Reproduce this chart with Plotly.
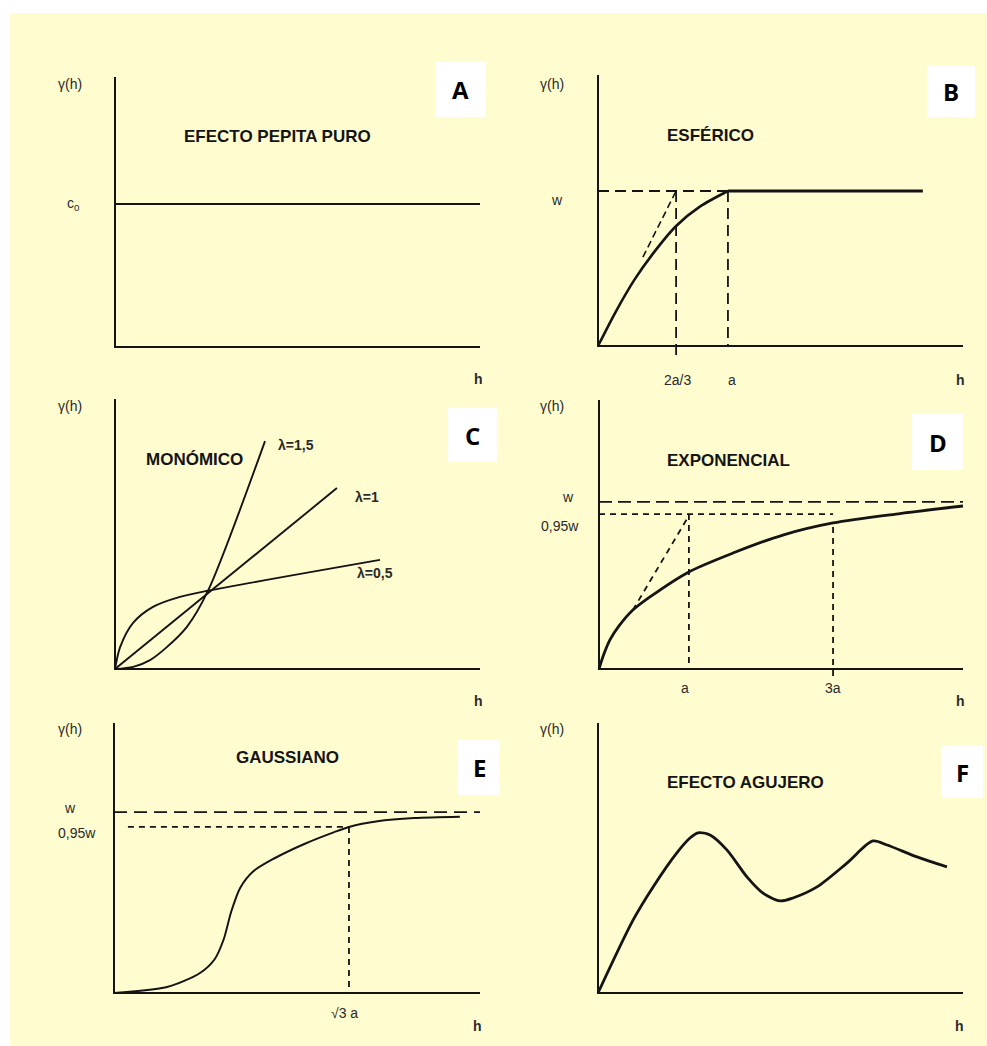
import plotly.graph_objects as go

W, H = 987, 1046
BG = "#FFFCCF"
INK = "#141414"

# ---------------- DATA (axis units: each drawn axis is 10 units long) ----------------
# A: pure nugget effect
a_h = [0, 10]
a_gamma = [5.30, 5.30]

# B: spherical
b_curve_h = [0, 0.5, 1.0, 1.5, 2.14, 2.8, 3.56]
b_curve_g = [0, 1.30, 2.45, 3.40, 4.43, 5.15, 5.72]
b_plateau_h = [3.56, 8.90]
b_plateau_g = [5.72, 5.72]
b_sill = 5.72
b_range_a = 3.56
b_two_thirds = 2.14
b_tangent_h = [1.23, 2.14]
b_tangent_g = [3.28, 5.72]

# C: monomial (power) models
c_l15_h = [0, 0.5, 0.96, 1.42, 1.97, 2.55, 4.11]
c_l15_g = [0, 0.08, 0.33, 0.81, 1.56, 2.90, 8.44]
c_l1_h = [0, 6.08]
c_l1_g = [0, 6.70]
c_l05_h = [0, 0.14, 0.49, 1.04, 1.78, 2.55, 7.26]
c_l05_g = [0, 0.81, 1.70, 2.30, 2.67, 2.90, 4.04]

# D: exponential
d_curve_h = [0, 0.12, 0.30, 0.55, 0.93, 1.40, 2.47, 3.68, 5.05, 6.43, 8.27, 10.0]
d_curve_g = [0, 0.50, 1.08, 1.60, 2.19, 2.68, 3.61, 4.31, 4.98, 5.43, 5.78, 6.06]
d_sill = 6.21
d_sill95 = 5.76
d_a = 2.47
d_3a = 6.43
d_3a_top = 5.28
d_tangent_h = [0.93, 2.47]
d_tangent_g = [2.19, 5.70]

# E: gaussian
e_curve_h = [0, 1.45, 2.35, 2.75, 3.0, 3.2, 3.45, 3.8, 4.4, 5.2, 6.0, 6.42, 7.2, 8.2, 9.45]
e_curve_g = [0, 0.22, 0.74, 1.25, 2.0, 3.0, 3.9, 4.5, 5.0, 5.52, 5.95, 6.15, 6.36, 6.48, 6.53]
e_sill = 6.70
e_sill95 = 6.15
e_sqrt3a = 6.42
e_sill95_start = 0.38

# F: hole effect
f_curve_h = [0, 0.96, 1.51, 2.16, 2.52, 2.74, 3.07, 3.53, 4.08, 4.52, 4.99, 5.34, 6.00, 6.82, 7.53, 7.92, 8.74, 9.56]
f_curve_g = [0, 2.70, 3.93, 5.19, 5.74, 5.93, 5.85, 5.30, 4.30, 3.70, 3.41, 3.52, 3.93, 4.81, 5.63, 5.48, 5.04, 4.67]

titles = ["EFECTO PEPITA PURO", "ESFÉRICO", "MONÓMICO", "EXPONENCIAL", "GAUSSIANO", "EFECTO AGUJERO"]
letters = ["A", "B", "C", "D", "E", "F"]

# ---------------- LAYOUT GEOMETRY (pixels) ----------------
regions = [(20, 40, 495, 398), (500, 40, 987, 398),
           (20, 398, 495, 716), (500, 398, 987, 716),
           (20, 716, 495, 1042), (500, 716, 987, 1042)]
# origin x, origin y, x-axis end, y-axis top
calib = [(115, 347, 480, 77), (598, 346, 963, 75),
         (115, 669, 480, 399), (599, 669, 963, 400),
         (114, 993, 480, 723), (598, 993, 963, 723)]
title_pos = [(277, 137), (710, 136), (194, 459), (728, 460), (287, 757), (745, 782)]
letter_box = [(435, 62, 486, 117), (927, 66, 975, 117), (448, 408, 497, 462),
              (912, 414, 963, 470), (458, 740, 500, 795), (941, 746, 983, 798)]
gamma_pos = [(70, 84), (552, 84), (70, 406), (552, 406), (70, 729), (552, 729)]
h_pos = [(478, 379), (960, 380), (478, 701), (960, 701), (477, 1026), (959, 1026)]

fig = go.Figure()
layout = dict(width=W, height=H, margin=dict(l=0, r=0, t=0, b=0),
              paper_bgcolor="white", plot_bgcolor="rgba(0,0,0,0)",
              showlegend=False, font=dict(family="Liberation Sans, Arial", color=INK))

def px(x):
    return x / W

def py(y):
    return 1 - y / H

for i in range(6):
    px0, py0, px1, py1 = regions[i]
    ox, oy, ex, ty = calib[i]
    sx = (ex - ox) / 10.0
    sy = (oy - ty) / 10.0
    sfx = "" if i == 0 else str(i + 1)
    layout["xaxis" + sfx] = dict(domain=[px(px0), px(px1)],
                                 range=[(px0 - ox) / sx, (px1 - ox) / sx],
                                 visible=False, fixedrange=True,
                                 anchor="y" + sfx)
    layout["yaxis" + sfx] = dict(domain=[py(py1), py(py0)],
                                 range=[(oy - py1) / sy, (oy - py0) / sy],
                                 visible=False, fixedrange=True,
                                 anchor="x" + sfx)

def axref(i):
    s = "" if i == 0 else str(i + 1)
    return "x" + s, "y" + s

def add_line(i, xs, ys, width=2.4, dash="solid", shape="linear"):
    xr, yr = axref(i)
    fig.add_trace(go.Scatter(x=xs, y=ys, mode="lines", xaxis=xr, yaxis=yr,
                             line=dict(color=INK, width=width, dash=dash, shape=shape,
                                       smoothing=0.8), hoverinfo="skip"))

LONG = "11px,6px"
SHORT = "6px,5px"

# axes (L shapes)
for i in range(6):
    add_line(i, [0, 0, 10], [10, 0, 0], width=2.0)

# A
add_line(0, a_h, a_gamma, width=2.0)

# B
add_line(1, [0, b_range_a], [b_sill, b_sill], width=1.8, dash=LONG)
add_line(1, [b_two_thirds, b_two_thirds], [b_sill, -0.52], width=1.8, dash=LONG)
add_line(1, [b_range_a, b_range_a], [b_sill, 0], width=1.8, dash=LONG)
add_line(1, b_tangent_h, b_tangent_g, width=1.6, dash="7px,4px")
add_line(1, b_curve_h, b_curve_g, width=2.6, shape="spline")
add_line(1, b_plateau_h, b_plateau_g, width=3.0)

# C
add_line(2, c_l15_h, c_l15_g, width=1.9, shape="spline")
add_line(2, c_l1_h, c_l1_g, width=1.9)
add_line(2, c_l05_h, c_l05_g, width=1.9, shape="spline")

# D
add_line(3, [0, 10], [d_sill, d_sill], width=1.8, dash="13px,6px")
add_line(3, [0, d_3a], [d_sill95, d_sill95], width=1.8, dash=SHORT)
add_line(3, [d_a, d_a], [d_sill95, 0], width=1.8, dash=SHORT)
add_line(3, [d_3a, d_3a], [d_3a_top, -0.30], width=1.8, dash=SHORT)
add_line(3, d_tangent_h, d_tangent_g, width=1.8, dash=SHORT)
add_line(3, d_curve_h, d_curve_g, width=2.8, shape="spline")

# E
add_line(4, [0, 10], [e_sill, e_sill], width=1.8, dash="13px,7px")
add_line(4, [e_sill95_start, e_sqrt3a], [e_sill95, e_sill95], width=1.8, dash=SHORT)
add_line(4, [e_sqrt3a, e_sqrt3a], [e_sill95, 0], width=1.8, dash=SHORT)
add_line(4, e_curve_h, e_curve_g, width=2.0, shape="spline")

# F
add_line(5, f_curve_h, f_curve_g, width=2.8, shape="spline")

# ---------------- TEXT ----------------
ann = []
shapes = [dict(type="rect", xref="paper", yref="paper", x0=px(10), x1=1, y0=0, y1=py(13),
               fillcolor=BG, line=dict(width=0), layer="below")]
TITLE_FONT = dict(family="Liberation Sans, Arial", size=17, color=INK)
SMALL = dict(family="Liberation Sans, Arial", size=14, color="#2a2a2a")
for i in range(6):
    tx, ty_ = title_pos[i]
    ann.append(dict(x=px(tx), y=py(ty_), xref="paper", yref="paper", text="<b>%s</b>" % titles[i],
                    showarrow=False, font=TITLE_FONT, xanchor="center", yanchor="middle"))
    x0, y0, x1, y1 = letter_box[i]
    shapes.append(dict(type="rect", xref="paper", yref="paper", x0=px(x0), x1=px(x1),
                       y0=py(y1), y1=py(y0), fillcolor="white", line=dict(width=0)))
    ann.append(dict(x=px((x0 + x1) / 2), y=py((y0 + y1) / 2), xref="paper", yref="paper",
                    text="<b>%s</b>" % letters[i], showarrow=False,
                    font=dict(family="Open Sans, Liberation Sans", size=24, color="#000"),
                    xanchor="center", yanchor="middle"))
    gx, gy = gamma_pos[i]
    ann.append(dict(x=px(gx), y=py(gy), xref="paper", yref="paper", text="γ(h)",
                    showarrow=False, font=SMALL, xanchor="center", yanchor="middle"))
    hx, hy = h_pos[i]
    ann.append(dict(x=px(hx), y=py(hy), xref="paper", yref="paper", text="<b>h</b>",
                    showarrow=False, font=SMALL, xanchor="center", yanchor="middle"))

def tick(i, x, y, text, xs=0, ys=0, bold=False, size=13):
    xr, yr = axref(i)
    ann.append(dict(x=x, y=y, xref=xr, yref=yr, text=("<b>%s</b>" % text) if bold else text,
                    showarrow=False, xshift=xs, yshift=ys, xanchor="center", yanchor="middle",
                    font=dict(family="Liberation Sans, Arial", size=size, color="#2a2a2a")))

# y tick labels
tick(0, 0, a_gamma[0], "c<sub>0</sub>", xs=-42, ys=0, size=14)
tick(1, 0, b_sill, "w", xs=-41, ys=-9, size=14)
tick(3, 0, d_sill, "w", xs=-31, ys=5, size=14)
tick(3, 0, d_sill95, "0,95w", xs=-39, ys=-12, size=14)
tick(4, 0, e_sill, "w", xs=-44, ys=4, size=14)
tick(4, 0, e_sill95, "0,95w", xs=-37, ys=-6, size=14)
# x tick labels
tick(1, b_two_thirds, 0, "2a/3", xs=1, ys=-34, size=14)
tick(1, b_range_a, 0, "a", xs=4, ys=-34, size=14)
tick(3, d_a, 0, "a", xs=-4, ys=-19, size=14)
tick(3, d_3a, 0, "3a", xs=0, ys=-19, size=14)
tick(4, e_sqrt3a, 0, "√3 a", xs=-4, ys=-20, size=14)
# lambda labels
tick(2, c_l15_h[-1], c_l15_g[-1], "λ=1,5", xs=31, ys=-4, bold=True, size=14)
tick(2, c_l1_h[-1], c_l1_g[-1], "λ=1", xs=30, ys=-9, bold=True, size=14)
tick(2, c_l05_h[-1], c_l05_g[-1], "λ=0,5", xs=-5, ys=-13, bold=True, size=14)

layout["annotations"] = ann
layout["shapes"] = shapes
fig.update_layout(**layout)
fig.write_html("out.html", config={"displayModeBar": False},
               post_script="document.body.style.margin='0';document.body.style.overflow='hidden';")
